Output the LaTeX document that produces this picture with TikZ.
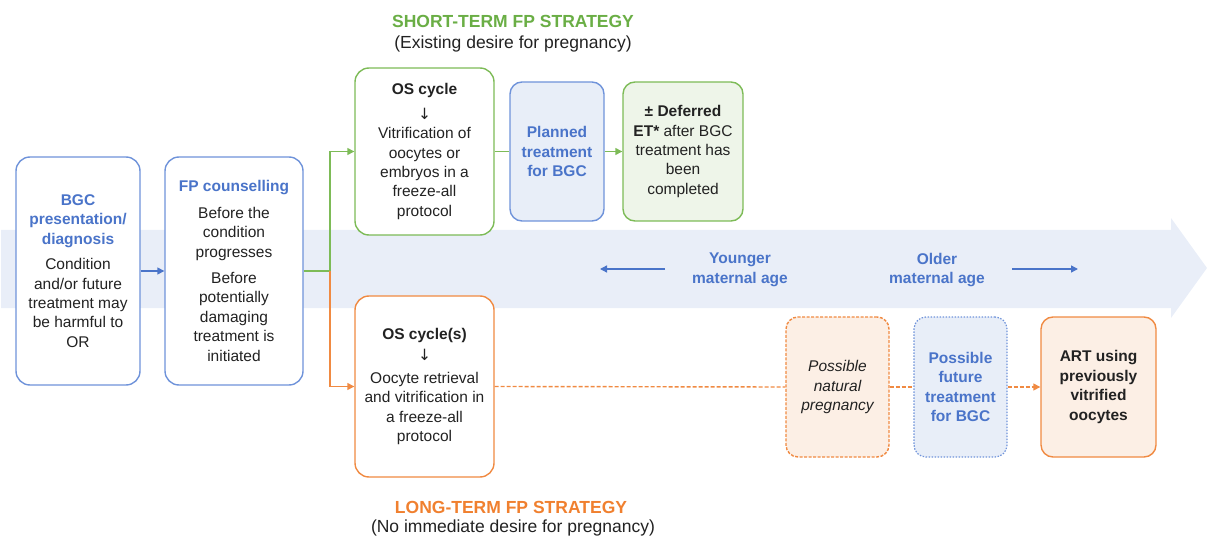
\documentclass[tikz,border=0pt]{standalone}
\usepackage{fontspec}
\setmainfont{Liberation Sans}
\newfontfamily\djv{DejaVu Sans}
\usetikzlibrary{arrows.meta}
\definecolor{tblue}{HTML}{4A74C9}
\definecolor{bblue}{HTML}{6F93DA}
\definecolor{fblue}{HTML}{E8EEF8}
\definecolor{band}{HTML}{E9EEF8}
\definecolor{tgreen}{HTML}{6AAE45}
\definecolor{bgreen}{HTML}{7DBB57}
\definecolor{fgreen}{HTML}{EEF5E9}
\definecolor{torange}{HTML}{F0802F}
\definecolor{borange}{HTML}{F08A42}
\definecolor{forange}{HTML}{FCEFE5}
\definecolor{txt}{HTML}{222222}
\newcommand{\fs}{\fontsize{15.5}{19.4}\selectfont}
\newcommand{\ft}{\fontsize{17.5}{21}\selectfont}
\newcommand{\darr}{{\djv\symbol{"2193}}}
\tikzset{
  box/.style={rounded corners=14pt, line width=1.4pt, align=center, font=\fs, text=txt, inner sep=0pt},
  bluebox/.style={box, draw=bblue, fill=white},
  greenbox/.style={box, draw=bgreen, fill=white},
  orangebox/.style={box, draw=borange, fill=white},
  conn/.style={line width=1.4pt},
  tip/.style={-{Triangle[length=7pt,width=7pt]}},
}
\begin{document}
\begin{tikzpicture}[x=1pt,y=-1pt]
\useasboundingbox (0,0) rectangle (1207,537);
% band arrow
\fill[band] (1,230) -- (1171,230) -- (1171,218) -- (1207,268) -- (1171,318) -- (1171,308) -- (1,308) -- cycle;

% titles
\node[font=\ft\bfseries, text=tgreen] (st) at (513,21) {SHORT-TERM FP STRATEGY};
\node[font=\ft, text=txt] (st2) at (513,44) {(Existing desire for pregnancy)};
\node[font=\ft\bfseries, text=torange] (lt) at (511,507) {LONG-TERM FP STRATEGY};
\node[font=\ft, text=txt] (lt2) at (513,528) {(No immediate desire for pregnancy)};

% boxes
\node[bluebox, minimum width=124pt, minimum height=228pt] (bgc) at (78,271)
 {\textcolor{tblue}{\bfseries BGC}\\\textcolor{tblue}{\bfseries presentation/}\\\textcolor{tblue}{\bfseries diagnosis}\\[6pt]
  Condition\\and/or future\\treatment may\\be harmful to\\OR};
\node[bluebox, minimum width=138pt, minimum height=228pt] (fp) at (234,271)
 {\textcolor{tblue}{\bfseries FP counselling}\\[7pt]
  Before the\\condition\\progresses\\[7pt]Before\\potentially\\damaging\\treatment is\\initiated};
\node[greenbox, minimum width=139pt, minimum height=167pt] (os1) at (424.5,151.5)
 {{\bfseries OS cycle}\\[5pt]\darr\\Vitrification of\\oocytes or\\embryos in a\\freeze-all\\protocol};
\node[box, draw=bblue, fill=fblue, rounded corners=12pt, minimum width=94pt, minimum height=139pt] (plan) at (557,151.5)
 {\textcolor{tblue}{\bfseries Planned}\\\textcolor{tblue}{\bfseries treatment}\\\textcolor{tblue}{\bfseries for BGC}};
\node[box, draw=bgreen, fill=fgreen, rounded corners=12pt, minimum width=120pt, minimum height=139pt] (def) at (683,151.5)
 {{\bfseries\textpm\ Deferred}\\{\bfseries ET*} after BGC\\treatment has\\been\\completed};
\node[orangebox, minimum width=139pt, minimum height=181pt] (os2) at (424.5,386.5)
 {{\bfseries OS cycle(s)}\\[2pt]\darr\\[3pt]Oocyte retrieval\\and vitrification in\\a freeze-all\\protocol};
\node[box, draw=borange, fill=forange, dash pattern=on 3pt off 1.5pt, rounded corners=12pt, minimum width=103pt, minimum height=140pt] (nat) at (837.5,387)
 {\itshape Possible\\\itshape natural\\\itshape pregnancy};
\node[box, draw=bblue, fill=fblue, dash pattern=on 1.5pt off 1.5pt, line width=1.2pt, rounded corners=12pt, minimum width=93pt, minimum height=140pt] (fut) at (960.5,387)
 {\textcolor{tblue}{\bfseries Possible}\\\textcolor{tblue}{\bfseries future}\\\textcolor{tblue}{\bfseries treatment}\\\textcolor{tblue}{\bfseries for BGC}};
\node[box, draw=borange, fill=forange, rounded corners=12pt, minimum width=115pt, minimum height=140pt] (art) at (1098.5,387)
 {{\bfseries ART using}\\{\bfseries previously}\\{\bfseries vitrified}\\{\bfseries oocytes}};

% age labels
\node[font=\fs\bfseries, text=tblue, align=center] (young) at (740,270) {Younger\\maternal age};
\node[font=\fs\bfseries, text=tblue, align=center] (old) at (937,270) {Older\\maternal age};
\coordinate (ys) at (665,269);
\coordinate (yl) at (600,269);
\coordinate (os) at (1012,269);
\coordinate (or) at (1078,269);
\draw[conn, tblue, tip] (ys) -- (yl);
\draw[conn, tblue, tip] (os) -- (or);

% connectors
\coordinate (split) at (330,271);
\draw[conn, tblue, tip] (bgc.east) -- (fp.west);
\draw[conn, bgreen] (fp.east) -- (split);
\draw[conn, bgreen, tip] (split) |- (os1.west);
\draw[conn, borange, tip] (split) |- (os2.west);
\draw[conn, bgreen] (os1.east) -- (plan.west);
\draw[conn, bgreen, tip] (plan.east) -- (def.west);
\draw[conn, borange, dash pattern=on 4pt off 2pt] (os2.east) -- (nat.west);
\draw[conn, borange, dash pattern=on 4pt off 2pt] (nat.east) -- (fut.west);
\draw[conn, borange, dash pattern=on 4pt off 2pt, tip] (fut.east) -- (art.west);
\end{tikzpicture}
\end{document}
